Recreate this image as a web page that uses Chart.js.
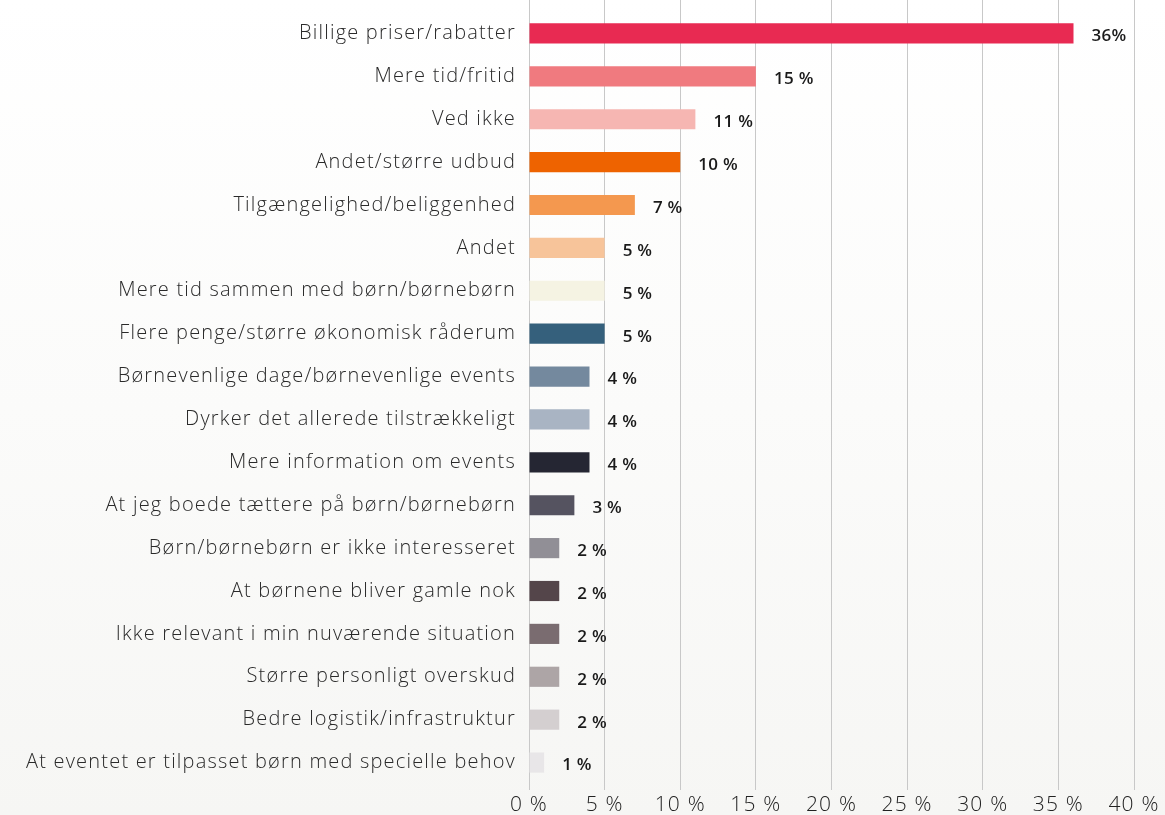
<!DOCTYPE html>
<html>
<head>
<meta charset="utf-8">
<script src="https://cdn.jsdelivr.net/npm/chart.js@4.4.0/dist/chart.umd.min.js"></script>
<style>
    html, body { margin: 0; padding: 0; }
    body {
        width: 1165px;
        height: 815px;
        overflow: hidden;
        background: linear-gradient(#ffffff 0%, #fbfbfa 50%, #f6f6f4 100%);
    }
    #chart { display: block; }
</style>
</head>
<body>
<canvas id="chart" width="1165" height="815"></canvas>
<script>
// Survey answers, one bar per answer
const categories = [
    'Billige priser/rabatter',
    'Mere tid/fritid',
    'Ved ikke',
    'Andet/større udbud',
    'Tilgængelighed/beliggenhed',
    'Andet',
    'Mere tid sammen med børn/børnebørn',
    'Flere penge/større økonomisk råderum',
    'Børnevenlige dage/børnevenlige events',
    'Dyrker det allerede tilstrækkeligt',
    'Mere information om events',
    'At jeg boede tættere på børn/børnebørn',
    'Børn/børnebørn er ikke interesseret',
    'At børnene bliver gamle nok',
    'Ikke relevant i min nuværende situation',
    'Større personligt overskud',
    'Bedre logistik/infrastruktur',
    'At eventet er tilpasset børn med specielle behov'
];

const values = [36, 15, 11, 10, 7, 5, 5, 5, 4, 4, 4, 3, 2, 2, 2, 2, 2, 1];

const valueLabels = ['36%', '15 %', '11 %', '10 %', '7 %', '5 %', '5 %', '5 %', '4 %',
    '4 %', '4 %', '3 %', '2 %', '2 %', '2 %', '2 %', '2 %', '1 %'];

const barColors = [
    '#e82a52', '#f07a7f', '#f6b6b2', '#ee6300', '#f4984f', '#f7c49a',
    '#f5f3e3', '#35607c', '#74899e', '#a9b4c3', '#252633', '#555360',
    '#918f96', '#54454a', '#7a6c70', '#ada5a6', '#d4cfd0', '#e8e6e8'
];

const xTicks = [0, 5, 10, 15, 20, 25, 30, 35, 40];

const FONT = "'Open Sans', 'Noto Sans', sans-serif";

// the original font is wider, so spread the letters a little
const spacingPlugin = {
    id: 'letterSpacing',
    beforeDraw(chart) {
        chart.ctx.letterSpacing = '1.2px';
    },
    afterDraw(chart) {
        chart.ctx.letterSpacing = '0px';
    }
};

// value text to the right of each bar
const valueLabelPlugin = {
    id: 'valueLabels',
    afterDatasetsDraw(chart) {
        const ctx = chart.ctx;
        const meta = chart.getDatasetMeta(0);
        ctx.save();
        ctx.letterSpacing = '0.3px';
        ctx.font = '600 17px ' + FONT;
        ctx.fillStyle = '#1a1a1a';
        ctx.textBaseline = 'middle';
        ctx.textAlign = 'left';
        meta.data.forEach((bar, i) => {
            ctx.fillText(valueLabels[i], bar.x + 18, bar.y + 3);
        });
        ctx.restore();
    }
};

// grid lines run up to the top edge of the picture
const gridExtendPlugin = {
    id: 'gridExtend',
    beforeDatasetsDraw(chart) {
        const ctx = chart.ctx;
        const x = chart.scales.x;
        ctx.save();
        ctx.strokeStyle = '#c8c8c8';
        ctx.lineWidth = 1;
        xTicks.forEach(t => {
            const px = Math.round(x.getPixelForValue(t) - 0.5) + 0.5;
            ctx.beginPath();
            ctx.moveTo(px, 0);
            ctx.lineTo(px, chart.chartArea.top + 2);
            ctx.stroke();
        });
        ctx.restore();
    }
};

new Chart(document.getElementById('chart'), {
    type: 'bar',
    data: {
        labels: categories,
        datasets: [{
            data: values,
            backgroundColor: barColors,
            borderWidth: 0,
            barPercentage: 0.47,
            categoryPercentage: 1
        }]
    },
    options: {
        indexAxis: 'y',
        responsive: false,
        animation: false,
        devicePixelRatio: 1,
        layout: {
            padding: { top: 10, right: 31, left: 0, bottom: 0 }
        },
        plugins: {
            legend: { display: false },
            tooltip: { enabled: false }
        },
        scales: {
            x: {
                min: 0,
                max: 40,
                afterBuildTicks(scale) {
                    scale.ticks = xTicks.map(v => ({ value: v }));
                },
                afterFit(scale) {
                    scale.height = 31;
                },
                border: { display: false },
                grid: {
                    color: '#c8c8c8',
                    lineWidth: 1,
                    tickLength: 6
                },
                ticks: {
                    padding: 2,
                    color: '#222222',
                    font: { family: FONT, size: 21, weight: 300 },
                    callback: v => v + ' %'
                }
            },
            y: {
                afterFit(scale) {
                    scale.width = 529;
                },
                border: { display: false },
                grid: { display: false, tickLength: 13 },
                ticks: {
                    padding: 0,
                    color: '#2a2a2a',
                    font: { family: FONT, size: 20, weight: 300 }
                }
            }
        }
    },
    plugins: [spacingPlugin, gridExtendPlugin, valueLabelPlugin]
});
</script>
</body>
</html>
